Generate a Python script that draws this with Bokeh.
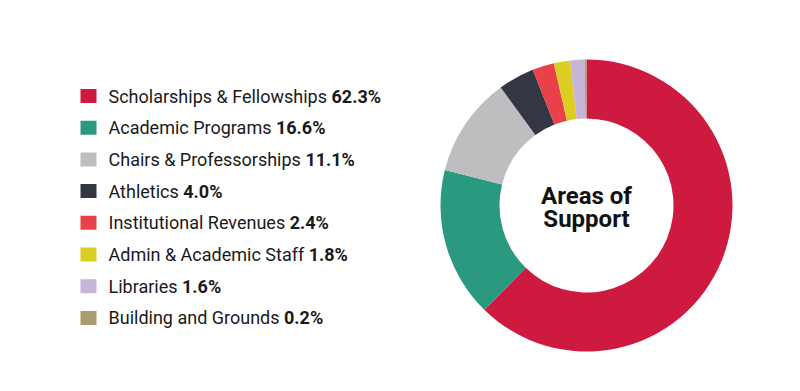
from bokeh.plotting import figure
from bokeh.models import Range1d, ColumnDataSource
from bokeh.core.properties import value
from bokeh.embed import file_html
from bokeh.resources import INLINE
import math

# ---- data ----
categories = ["Scholarships & Fellowships", "Academic Programs", "Chairs & Professorships",
              "Athletics", "Institutional Revenues", "Admin & Academic Staff",
              "Libraries", "Building and Grounds"]
shares = [62.3, 16.6, 11.1, 4.0, 2.4, 1.8, 1.6, 0.2]
colors = ["#CF1A40", "#2A9980", "#BEBEC0", "#323743", "#E8414A", "#DCCD22", "#C8B4D6", "#A99D6E"]
center_title = ["Areas of", "Support"]

W, H = 784, 375
FONT = "Roboto"
LABEL_SIZE = 18
TITLE_SIZE = 24

def page_y(y):
    return 391 - y

def measure(text, bold, size):
    try:
        import subprocess
        from PIL import ImageFont
        path = subprocess.run(["fc-match", "-f", "%{file}", f"{FONT}:style={'Bold' if bold else 'Regular'}"],
                              capture_output=True, text=True).stdout.strip()
        f = ImageFont.truetype(path, size)
        return f.getlength(text)
    except Exception:
        return len(text) * size * 0.47

p = figure(width=W, height=H, x_range=Range1d(0, W), y_range=Range1d(391 - H, 391),
           output_backend="svg", toolbar_location=None, x_axis_type=None, y_axis_type=None,
           min_border=0)
p.outline_line_color = None
p.grid.visible = False
p.background_fill_color = "white"

# ---- donut ----
cx, cy = 586, page_y(205)
r_out, r_in = 146, 87
total = sum(shares)
starts, ends = [], []
acc = 0.0
for s in shares:
    starts.append(math.pi / 2 - acc / total * 2 * math.pi)
    acc += s
    ends.append(math.pi / 2 - acc / total * 2 * math.pi)
src = ColumnDataSource(dict(start=starts, end=ends, color=colors))
p.annular_wedge(x=cx, y=cy, inner_radius=r_in, outer_radius=r_out, start_angle="start",
                end_angle="end", direction="clock", fill_color="color", line_color=None,
                source=src)

p.text(x=[cx, cx], y=[page_y(195), page_y(218)], text=center_title,
       text_font=value(FONT), text_font_style="bold", text_font_size=f"{TITLE_SIZE}px",
       text_align="center", text_baseline="middle", text_color="#111111")

# ---- legend ----
row0, step = 95.5, 31.7
rows_y = [row0 + i * step for i in range(len(categories))]
p.rect(x=[88] * len(categories), y=[page_y(r) for r in rows_y], width=16, height=14,
       fill_color=colors, line_color=None)
label_x = 108
p.text(x=[label_x] * len(categories), y=[page_y(r) for r in rows_y], text=categories,
       text_font=value(FONT), text_font_size=f"{LABEL_SIZE}px", text_align="left",
       text_baseline="middle", text_color="#1a1a1a")
pct_text = [f"{s:.1f}%" for s in shares]
pct_x = [label_x + measure(c + " ", False, LABEL_SIZE) for c in categories]
p.text(x=pct_x, y=[page_y(r) for r in rows_y], text=pct_text,
       text_font=value(FONT), text_font_style="bold", text_font_size=f"{LABEL_SIZE}px",
       text_align="left", text_baseline="middle", text_color="#1a1a1a")

open("out.html", "w").write(file_html(p, INLINE))
